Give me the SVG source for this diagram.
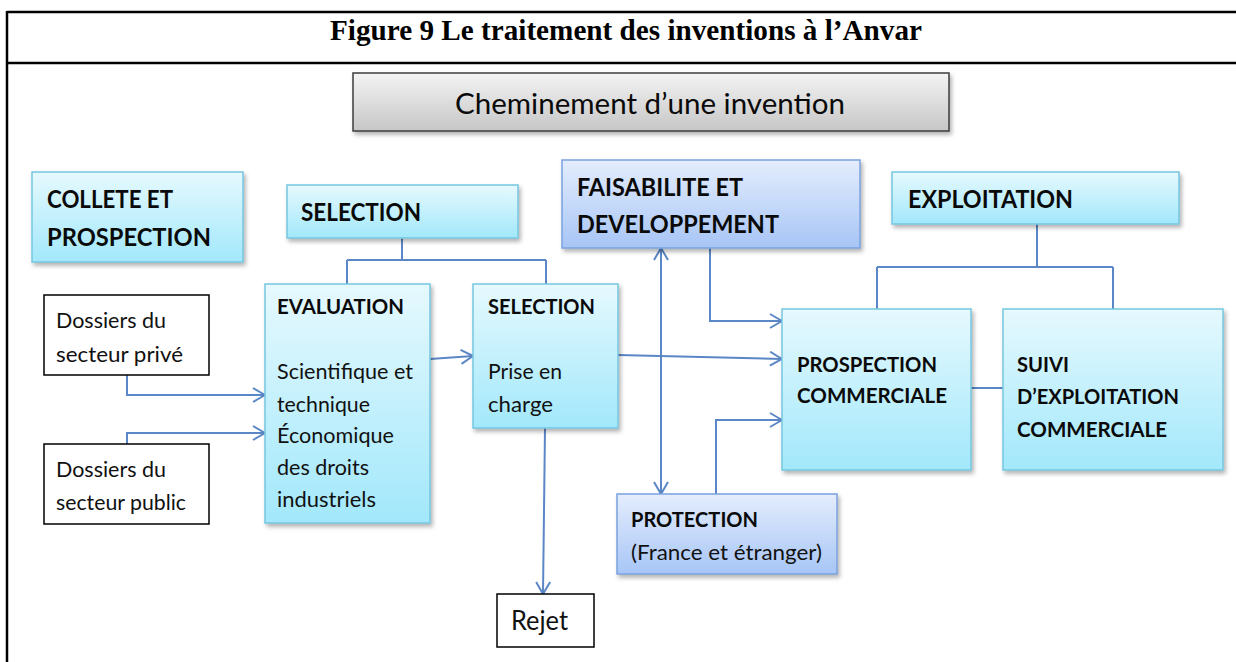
<svg xmlns="http://www.w3.org/2000/svg" width="1236" height="662" viewBox="0 0 1236 662">
<style>
.frame{stroke:#000;stroke-width:2.5;fill:none}
.title{font-family:"Liberation Serif","Times New Roman",serif;font-weight:bold;font-size:29px;fill:#000}
.cyan{fill:url(#gCyan);stroke:#76c6df;stroke-width:1.5;filter:url(#sh)}
.blue{fill:url(#gBlue);stroke:#7aa2de;stroke-width:1.5;filter:url(#sh)}
.gray{fill:url(#gGray);stroke:#3c3c3c;stroke-width:1.5;filter:url(#sh)}
.white{fill:#fff;stroke:#000;stroke-width:1.5}
.h{font-family:Lato,"Open Sans",sans-serif;font-weight:bold;font-size:25px;fill:#0a0a0a}
.b{font-family:Lato,"Open Sans",sans-serif;font-weight:bold;font-size:21px;fill:#0a0a0a}
.r{font-family:Lato,"Open Sans",sans-serif;font-size:21px;fill:#111}
.cap{font-family:Lato,"Open Sans",sans-serif;font-size:29px;fill:#0a0a0a}
.con{fill:none;stroke:#5b87c6;stroke-width:2}
.arr{marker-end:url(#ah)}
</style>
<defs>
<linearGradient id="gCyan" x1="0" y1="0" x2="0" y2="1"><stop offset="0" stop-color="#e6f9fe"/><stop offset="1" stop-color="#a2e8fb"/></linearGradient>
<linearGradient id="gBlue" x1="0" y1="0" x2="0" y2="1"><stop offset="0" stop-color="#e4edfd"/><stop offset="1" stop-color="#a7c5f6"/></linearGradient>
<linearGradient id="gGray" x1="0" y1="0" x2="0" y2="1"><stop offset="0" stop-color="#f4f4f4"/><stop offset="1" stop-color="#c6c6c6"/></linearGradient>
<filter id="sh" x="-5%" y="-5%" width="115%" height="125%"><feDropShadow dx="2" dy="3" stdDeviation="2" flood-color="#000" flood-opacity="0.3"/></filter>
<marker id="ah" viewBox="0 0 14 16" refX="13" refY="8" markerWidth="14" markerHeight="16" markerUnits="userSpaceOnUse" orient="auto-start-reverse"><path d="M1,1 L13,8 L1,15" fill="none" stroke="#5b87c6" stroke-width="2"/></marker>
</defs>

<g id="frame">
<line class="frame" x1="7" y1="12" x2="1236" y2="12"/>
<line class="frame" x1="7" y1="63" x2="1236" y2="63"/>
<line class="frame" x1="7" y1="11" x2="7" y2="662"/>
<text class="title" x="330" y="40" textLength="592" lengthAdjust="spacingAndGlyphs">Figure 9 Le traitement des inventions à l’Anvar</text>
</g>

<g id="connectors">
<path class="con" d="M402,238 V260 M347,260 H546 M347,260 V284 M546,260 V284"/>
<path class="con arr" d="M127,375 V395 H265"/>
<path class="con arr" d="M127,444 V433 H265"/>
<path class="con arr" d="M430,359 L473,356"/>
<path class="con arr" d="M618,355 L782,359"/>
<path class="con arr" d="M710,248 V321 H782"/>
<path class="con arr" style="marker-start:url(#ah)" d="M661,248 V494"/>
<path class="con arr" d="M716,494 V420 H782"/>
<path class="con" d="M1037,224 V267 M877,267 H1113 M877,267 V309 M1113,267 V309"/>
<path class="con" d="M971,388 H1003"/>
<path class="con arr" d="M545,428 L543,594"/>
</g>

<g id="n-cheminement">
<rect class="gray" x="353" y="73" width="596" height="58"/>
<text class="cap" x="455" y="114" textLength="390" lengthAdjust="spacingAndGlyphs">Cheminement d’une invention</text>
</g>

<g id="n-collete">
<rect class="cyan" x="32" y="172" width="211" height="90"/>
<text class="h" x="47" y="208" textLength="126" lengthAdjust="spacingAndGlyphs">COLLETE ET</text>
<text class="h" x="47" y="246" textLength="164" lengthAdjust="spacingAndGlyphs">PROSPECTION</text>
</g>

<g id="n-selection-header">
<rect class="cyan" x="287" y="185" width="231" height="53"/>
<text class="h" x="301" y="221" textLength="120" lengthAdjust="spacingAndGlyphs">SELECTION</text>
</g>

<g id="n-faisabilite">
<rect class="blue" x="562" y="160" width="298" height="88"/>
<text class="h" x="577" y="196" textLength="166" lengthAdjust="spacingAndGlyphs">FAISABILITE ET</text>
<text class="h" x="577" y="233" textLength="202" lengthAdjust="spacingAndGlyphs">DEVELOPPEMENT</text>
</g>

<g id="n-exploitation">
<rect class="cyan" x="892" y="172" width="287" height="52"/>
<text class="h" x="908" y="208" textLength="165" lengthAdjust="spacingAndGlyphs">EXPLOITATION</text>
</g>

<g id="n-prive">
<rect class="white" x="44" y="295" width="165" height="80"/>
<text class="r" x="56" y="328" textLength="110" lengthAdjust="spacingAndGlyphs">Dossiers du</text>
<text class="r" x="56" y="362" textLength="127" lengthAdjust="spacingAndGlyphs">secteur privé</text>
</g>

<g id="n-public">
<rect class="white" x="44" y="444" width="165" height="80"/>
<text class="r" x="56" y="477" textLength="110" lengthAdjust="spacingAndGlyphs">Dossiers du</text>
<text class="r" x="56" y="510" textLength="130" lengthAdjust="spacingAndGlyphs">secteur public</text>
</g>

<g id="n-evaluation">
<rect class="cyan" x="265" y="284" width="165" height="239"/>
<text class="b" x="277" y="314" textLength="127" lengthAdjust="spacingAndGlyphs">EVALUATION</text>
<text class="r" x="277" y="379" textLength="136" lengthAdjust="spacingAndGlyphs">Scientifique et</text>
<text class="r" x="277" y="412" textLength="93" lengthAdjust="spacingAndGlyphs">technique</text>
<text class="r" x="277" y="443" textLength="117" lengthAdjust="spacingAndGlyphs">Économique</text>
<text class="r" x="277" y="475" textLength="92" lengthAdjust="spacingAndGlyphs">des droits</text>
<text class="r" x="277" y="507" textLength="99" lengthAdjust="spacingAndGlyphs">industriels</text>
</g>

<g id="n-selection">
<rect class="cyan" x="473" y="284" width="145" height="144"/>
<text class="b" x="488" y="314" textLength="107" lengthAdjust="spacingAndGlyphs">SELECTION</text>
<text class="r" x="488" y="379" textLength="74" lengthAdjust="spacingAndGlyphs">Prise en</text>
<text class="r" x="488" y="412" textLength="65" lengthAdjust="spacingAndGlyphs">charge</text>
</g>

<g id="n-prospection">
<rect class="cyan" x="782" y="309" width="189" height="161"/>
<text class="b" x="797" y="372" textLength="140" lengthAdjust="spacingAndGlyphs">PROSPECTION</text>
<text class="b" x="797" y="403" textLength="150" lengthAdjust="spacingAndGlyphs">COMMERCIALE</text>
</g>

<g id="n-suivi">
<rect class="cyan" x="1003" y="309" width="220" height="161"/>
<text class="b" x="1017" y="372" textLength="52" lengthAdjust="spacingAndGlyphs">SUIVI</text>
<text class="b" x="1017" y="404" textLength="162" lengthAdjust="spacingAndGlyphs">D’EXPLOITATION</text>
<text class="b" x="1017" y="437" textLength="150" lengthAdjust="spacingAndGlyphs">COMMERCIALE</text>
</g>

<g id="n-protection">
<rect class="blue" x="617" y="494" width="220" height="80"/>
<text class="b" x="631" y="527" textLength="127" lengthAdjust="spacingAndGlyphs">PROTECTION</text>
<text class="r" x="631" y="560" textLength="191" lengthAdjust="spacingAndGlyphs">(France et étranger)</text>
</g>

<g id="n-rejet">
<rect class="white" x="497" y="594" width="97" height="53"/>
<text class="r" style="font-size:26px" x="511" y="630" textLength="57" lengthAdjust="spacingAndGlyphs">Rejet</text>
</g>
</svg>
